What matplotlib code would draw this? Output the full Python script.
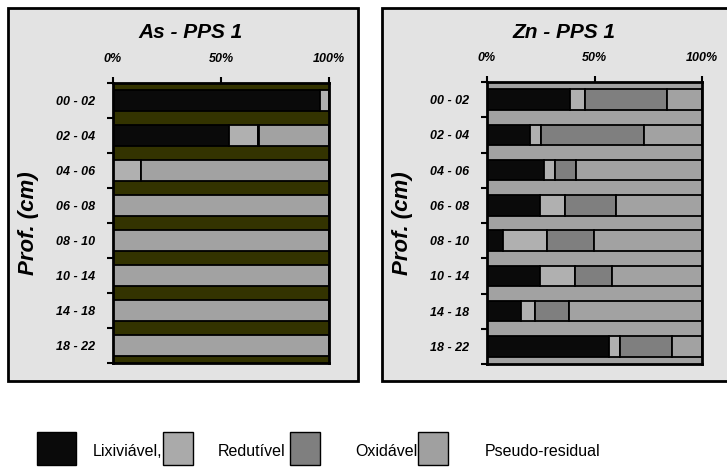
import matplotlib
matplotlib.use('Agg')
import matplotlib.pyplot as plt
from matplotlib.patches import Rectangle
import numpy as np

plt.rcParams['font.family'] = ['Liberation Sans', 'DejaVu Sans']

depths = ['00 - 02', '02 - 04', '04 - 06', '06 - 08', '08 - 10', '10 - 14', '14 - 18', '18 - 22']
fractions = ['Lixiviável,', 'Redutível', 'Oxidável', 'Pseudo-residual']
colors = ['#0a0a0a', '#b0b0b0', '#7f7f7f', '#a2a2a2']

# As - PPS 1 (%)
as_lix = [96, 53.5, 0, 0, 0, 0, 0, 0]
as_red = [4, 13.5, 13, 0, 0, 0, 0, 0]
as_oxi = [0, 0.5, 0, 0, 0, 0, 0, 0]
as_pse = [0, 32.5, 87, 100, 100, 100, 100, 100]

# Zn - PPS 1 (%)
zn_lix = [38.6, 19.8, 26.6, 24.5, 7.5, 24.5, 15.9, 56.7]
zn_red = [7.0, 5.2, 5.2, 11.9, 20.3, 16.6, 6.3, 5.0]
zn_oxi = [38.0, 48.1, 9.4, 23.4, 21.9, 17.0, 16.1, 24.2]
zn_pse = [16.4, 26.9, 58.8, 40.2, 50.3, 41.9, 61.7, 14.1]

fig = plt.figure(figsize=(7.27, 4.67), dpi=100)
fig.patch.set_facecolor('white')

# panel frames (behind the axes)
for x0 in [8, 382]:
    fig.patches.append(Rectangle((x0 / 727, 1 - 381 / 467), 350 / 727, 373 / 467,
                                 transform=fig.transFigure, facecolor='#e3e3e3',
                                 edgecolor='black', linewidth=2, zorder=-5))


def panel(rect, title, title_x, series, bg):
    ax = fig.add_axes(rect)
    ax.set_facecolor(bg)
    y = np.arange(len(depths))
    left = np.zeros(len(depths))
    for vals, c in zip(series, colors):
        vals = np.array(vals)
        ax.barh(y, vals, left=left, height=0.58, color=c, edgecolor='black', linewidth=1.3)
        left += vals
    ax.set_xlim(0, 100)
    ax.set_ylim(len(depths) - 0.5, -0.5)
    ax.xaxis.tick_top()
    ax.set_xticks([0, 50, 100])
    ax.set_xticklabels(['0%', '50%', '100%'], fontsize=9, fontweight='bold', fontstyle='italic')
    ax.tick_params(axis='x', length=4, width=1.5, pad=9)
    ax.set_yticks(np.arange(len(depths) + 1) - 0.5)
    ax.set_yticklabels([])
    ax.set_yticks(y, minor=True)
    ax.set_yticklabels(depths, minor=True, fontsize=9, fontweight='bold', fontstyle='italic')
    ax.tick_params(axis='y', which='major', length=4, width=1.5)
    ax.tick_params(axis='y', which='minor', length=0, pad=13)
    for s in ax.spines.values():
        s.set_linewidth(2)
    ax.set_ylabel('Prof. (cm)', fontsize=16, fontweight='bold', fontstyle='italic')
    ax.yaxis.set_label_coords(-74 / (rect[2] * 727), 0.5)
    fig.text(title_x / 727, 1 - 32 / 467, title, fontsize=15, fontweight='bold',
             fontstyle='italic', ha='center', va='center')
    return ax


ax1 = panel([113 / 727, 1 - 363 / 467, 216 / 727, 280 / 467], 'As - PPS 1', 191,
            [as_lix, as_red, as_oxi, as_pse], '#333300')
ax2 = panel([487 / 727, 1 - 364 / 467, 215 / 727, 282 / 467], 'Zn - PPS 1', 564,
            [zn_lix, zn_red, zn_oxi, zn_pse], '#a2a2a2')

# legend drawn below the panels
sq_x = [37, 163, 290, 418]
txt_x = [93, 218, 355, 485]
leg_colors = ['#0a0a0a', '#aaaaaa', '#7f7f7f', '#a0a0a0']
for sx, tx, c, lab in zip(sq_x, txt_x, leg_colors, fractions):
    w = 39 if sx == 37 else 30
    fig.patches.append(Rectangle((sx / 727, 1 - 465 / 467), w / 727, 33 / 467,
                                 transform=fig.transFigure, facecolor=c,
                                 edgecolor='black', linewidth=1, zorder=2))
    fig.text(tx / 727, 1 - 452 / 467, lab, fontsize=11.5, va='center', ha='left',
             zorder=1)

fig.savefig('out.png', dpi=100)
